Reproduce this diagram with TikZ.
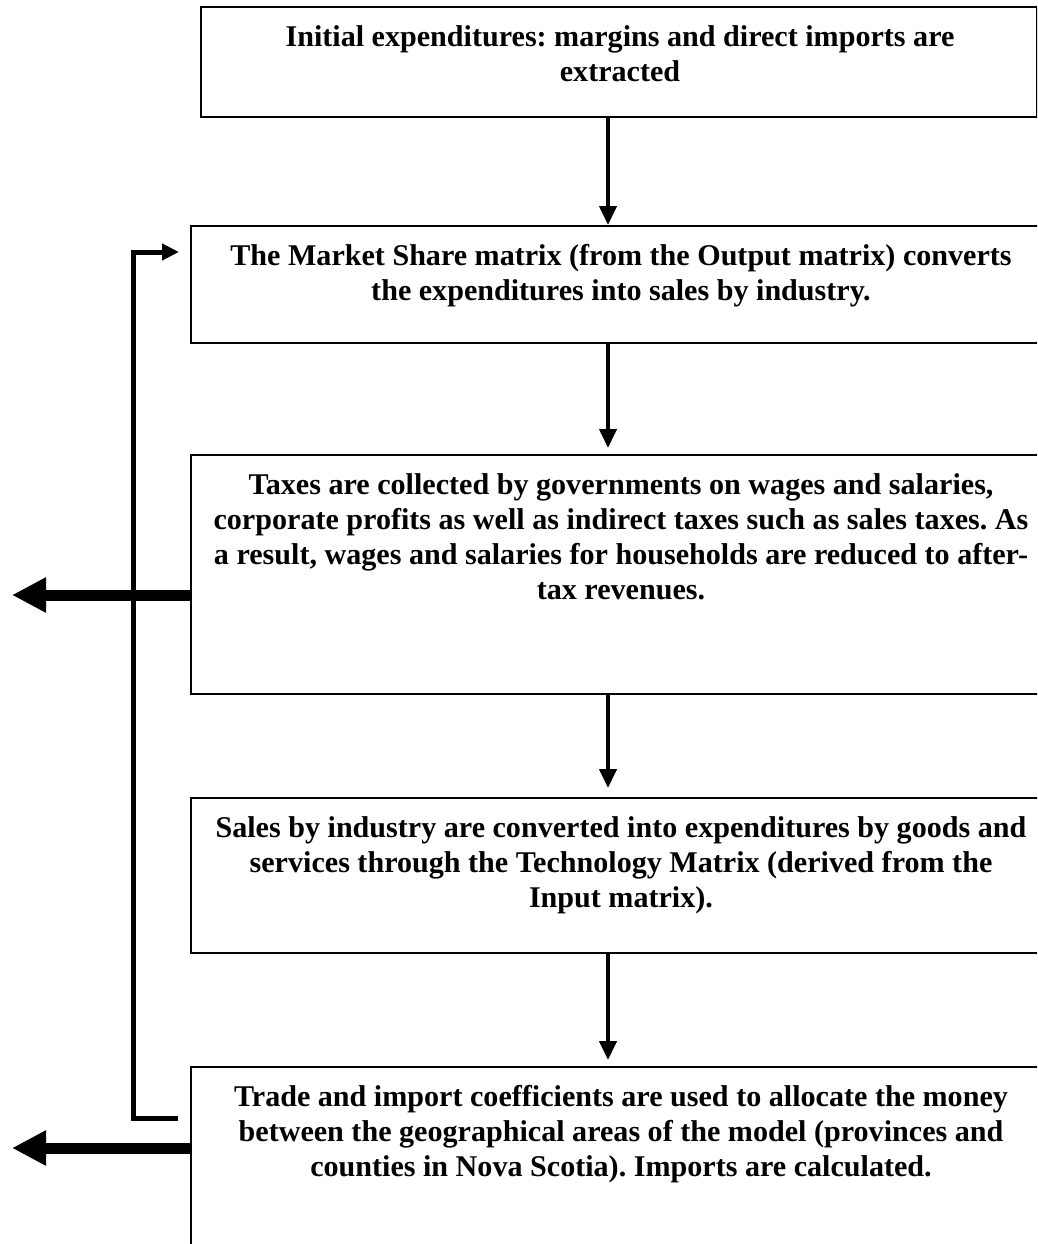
\documentclass[tikz,border=0pt]{standalone}
\usepackage{fontspec}
\setmainfont{Liberation Serif}
\usetikzlibrary{arrows.meta,calc}
\frenchspacing
\begin{document}
\begin{tikzpicture}[x=1pt,y=-1pt,
  frame/.style={draw=black,line width=1.6pt,inner sep=0pt,anchor=north west},
  txt/.style={inner sep=0pt,anchor=north,align=center,
    font=\fontsize{30.1pt}{35pt}\selectfont\bfseries},
  downarrow/.style={line width=4pt,-{Triangle[width=17pt,length=19pt]}},
  fbline/.style={line width=5pt,-{Triangle[width=16pt,length=17pt]}},
  outarrow/.style={line width=11pt,-{Triangle[width=33pt,length=34pt]}}]
\useasboundingbox (0,0) rectangle (1037,1244);
\clip (0,0) rectangle (1037,1244);
\fill[white] (0,0) rectangle (1037,1244);

% boxes
\node[frame,minimum width=836pt,minimum height=110pt] (b1) at (200,6) {};
\node[frame,minimum width=862pt,minimum height=117pt] (b2) at (190,225) {};
\node[frame,minimum width=862pt,minimum height=239pt] (b3) at (190,454) {};
\node[frame,minimum width=862pt,minimum height=155pt] (b4) at (190,797) {};
\node[frame,minimum width=862pt,minimum height=260pt] (b5) at (190,1066) {};

% texts
\node[txt] (t1) at (620,25) {Initial expenditures: margins and direct imports are\\extracted};
\node[txt] (t2) at (621,244) {The Market Share matrix (from the Output matrix) converts\\the expenditures into sales by industry.};
\node[txt] (t3) at (621,473) {Taxes are collected by governments on wages and salaries,\\corporate profits as well as indirect taxes such as sales taxes. As\\a result, wages and salaries for households are reduced to after-\\tax revenues.};
\node[txt] (t4) at (621,816) {Sales by industry are converted into expenditures by goods and\\services through the Technology Matrix (derived from the\\Input matrix).};
\node[txt] (t5) at (621,1085) {Trade and import coefficients are used to allocate the money\\between the geographical areas of the model (provinces and\\counties in Nova Scotia). Imports are calculated.};

% vertical flow arrows
\coordinate (ax) at (608,0);
\draw[downarrow] (b1.south -| ax) -- (b2.north -| ax);
\draw[downarrow,shorten >=6pt] (b2.south -| ax) -- (b3.north -| ax);
\draw[downarrow,shorten >=9pt] (b3.south -| ax) -- (b4.north -| ax);
\draw[downarrow,shorten >=6pt] (b4.south -| ax) -- (b5.north -| ax);

% feedback loop
\coordinate (fbS) at (178,1118);
\coordinate (fbE) at (179,252);
\coordinate (fbx) at (133,700);
\draw[fbline] (fbS) -- (fbS -| fbx) -- (fbE -| fbx) -- (fbE);

% outgoing thick arrows
\coordinate (o1) at (12,595);
\coordinate (o2) at (12,1148);
\draw[outarrow] (b3.west |- o1) -- (o1);
\draw[outarrow] (b5.west |- o2) -- (o2);
\end{tikzpicture}
\end{document}
